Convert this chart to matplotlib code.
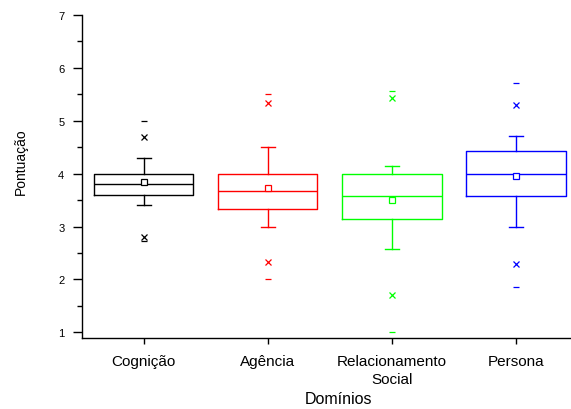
import matplotlib
matplotlib.use('Agg')
import matplotlib.pyplot as plt
from matplotlib.ticker import MultipleLocator

plt.rcParams['font.family'] = ['Liberation Sans', 'DejaVu Sans']

# Domains and box statistics
categories = ['Cognição', 'Agência', 'Relacionamento\nSocial', 'Persona']
colors = ['black', '#FF0000', '#00FF00', '#0000FF']
medians = [3.80, 3.67, 3.57, 4.00]
q1 = [3.60, 3.33, 3.14, 3.57]
q3 = [4.00, 4.00, 4.00, 4.43]
whisker_lo = [3.40, 3.00, 2.57, 3.00]
whisker_hi = [4.30, 4.50, 4.14, 4.71]
means = [3.85, 3.72, 3.51, 3.95]
p01 = [2.80, 2.33, 1.71, 2.29]    # 1% (x marker)
p99 = [4.70, 5.33, 5.43, 5.29]    # 99% (x marker)
mins = [2.73, 2.00, 1.00, 1.86]   # min (dash)
maxs = [5.00, 5.50, 5.57, 5.71]   # max (dash)

fig = plt.figure(figsize=(5.71, 4.10), dpi=100)
ax = fig.add_axes([81.7 / 571, 1 - 339.3 / 410, (578 - 81.7) / 571, (339.3 - 16) / 410])

for i, cat in enumerate(categories):
    pos = i + 1
    c = colors[i]
    stats = [{'med': medians[i], 'q1': q1[i], 'q3': q3[i],
              'whislo': whisker_lo[i], 'whishi': whisker_hi[i],
              'mean': means[i], 'fliers': [], 'label': cat}]
    ax.bxp(stats, positions=[pos], widths=0.8, capwidths=0.11,
           showmeans=True, manage_ticks=False,
           boxprops=dict(color=c, linewidth=1.0),
           medianprops=dict(color=c, linewidth=1.0),
           whiskerprops=dict(color=c, linewidth=1.0),
           capprops=dict(color=c, linewidth=1.0),
           meanprops=dict(marker='s', markerfacecolor='white',
                          markeredgecolor=c, markersize=4, markeredgewidth=0.9))
    ax.plot([pos, pos], [p01[i], p99[i]], linestyle='none', marker='x',
            color=c, markersize=4, markeredgewidth=0.9)
    ax.plot([pos, pos], [mins[i], maxs[i]], linestyle='none', marker='_',
            color=c, markersize=5, markeredgewidth=0.9)

ax.set_xlim(0.5, 4.5)
ax.set_ylim(0.887, 7)
ax.set_xticks(range(1, len(categories) + 1))
ax.set_xticklabels(categories, fontsize=11, linespacing=1.35)
ax.yaxis.set_major_locator(MultipleLocator(1))
ax.yaxis.set_minor_locator(MultipleLocator(0.5))
ax.set_yticks(range(1, 8))
ax.tick_params(axis='y', which='major', length=6.5, width=1, labelsize=8, pad=6)
ax.tick_params(axis='y', which='minor', length=3.5, width=1)
ax.tick_params(axis='x', which='major', length=4.5, width=1, pad=7)

for side in ['top', 'right']:
    ax.spines[side].set_visible(False)
for side in ['left', 'bottom']:
    ax.spines[side].set_linewidth(1.0)
ax.spines['left'].set_bounds(0.887, 7)

ax.set_ylabel('Pontuação', fontsize=10)
ax.yaxis.set_label_coords(-0.108, 0.548)
ax.set_xlabel('Domínios', fontsize=11.5)
ax.xaxis.set_label_coords((338 - 81.7) / (578 - 81.7), -0.163)

fig.savefig('out.png', dpi=100)
